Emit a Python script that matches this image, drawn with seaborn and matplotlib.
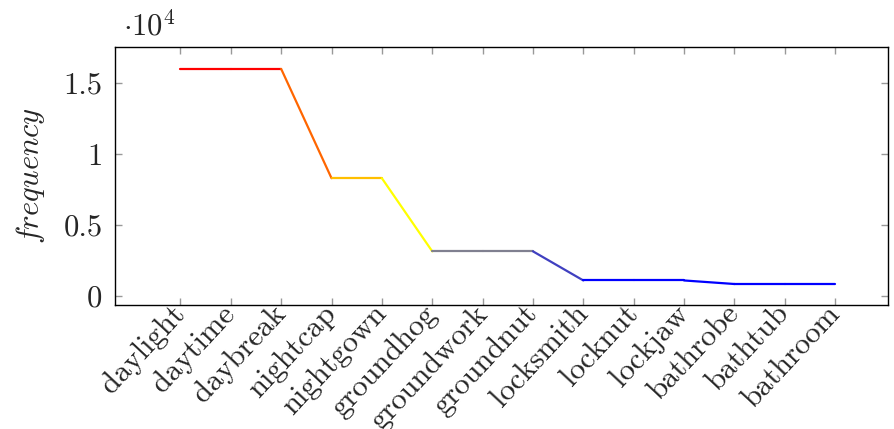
import matplotlib
matplotlib.use("Agg")
import matplotlib.pyplot as plt
from matplotlib.ticker import FuncFormatter
import pandas as pd
import seaborn as sns

# Data
words = ["daylight", "daytime", "daybreak", "nightcap", "nightgown", "groundhog",
         "groundwork", "groundnut", "locksmith", "locknut", "lockjaw",
         "bathrobe", "bathtub", "bathroom"]
frequency = [16000, 16000, 16000, 8300, 8300, 3150, 3150, 3150,
             1100, 1100, 1100, 850, 850, 850]
# colour of each segment between consecutive words
segment_colors = ["#ff0000", "#ff0000", "#ff6600", "#ffbf00", "#ffff00",
                  "#808090", "#808090", "#4040c0", "#0000ff", "#0000ff",
                  "#0000ff", "#0000ff", "#0000ff"]

# Build one 2-point line per segment so each can take its own colour
rows = []
for i in range(len(words) - 1):
    rows.append({"seg": i, "pos": i, "freq": frequency[i]})
    rows.append({"seg": i, "pos": i + 1, "freq": frequency[i + 1]})
seg_df = pd.DataFrame(rows)

sns.set_theme(style="ticks")
plt.rcParams["font.family"] = ["cmr10", "DejaVu Serif"]
plt.rcParams["mathtext.fontset"] = "cm"
plt.rcParams["axes.formatter.use_mathtext"] = True

FS = 22

fig = plt.figure(figsize=(8.94, 4.29), dpi=100)
ax = fig.add_axes([0.1286, 0.289, 0.8647, 0.6014])

sns.lineplot(data=seg_df, x="pos", y="freq", hue="seg",
             palette=dict(enumerate(segment_colors)), legend=False,
             linewidth=1.6, estimator=None, ax=ax)

ax.set_xlim(-1.3, 14.05)
ax.set_ylim(-630, 17540)
ax.set_xticks(range(len(words)))
# pgfplots style: rotated labels anchored at their east side
ax.set_xticklabels(words, rotation=47, ha="right", va="center",
                   rotation_mode="anchor", fontsize=22)
ax.set_yticks([0, 5000, 10000, 15000])
ax.yaxis.set_major_formatter(FuncFormatter(lambda v, p: f"{v / 1e4:g}"))
ax.tick_params(axis="y", labelsize=FS, pad=9)
ax.tick_params(which="both", direction="in", length=5, color="#999999",
               top=True, right=True, width=1)
ax.tick_params(axis="x", pad=3)
ax.set_xlabel("")
ax.set_ylabel(r"$\mathit{frequency}$", fontsize=FS, labelpad=12)
for s in ax.spines.values():
    s.set_color("black")
    s.set_linewidth(1.0)

fig.text(0.138, 0.94, r"$\cdot 10^4$", fontsize=FS, va="center", ha="left")

fig.savefig("out.png", dpi=100)
